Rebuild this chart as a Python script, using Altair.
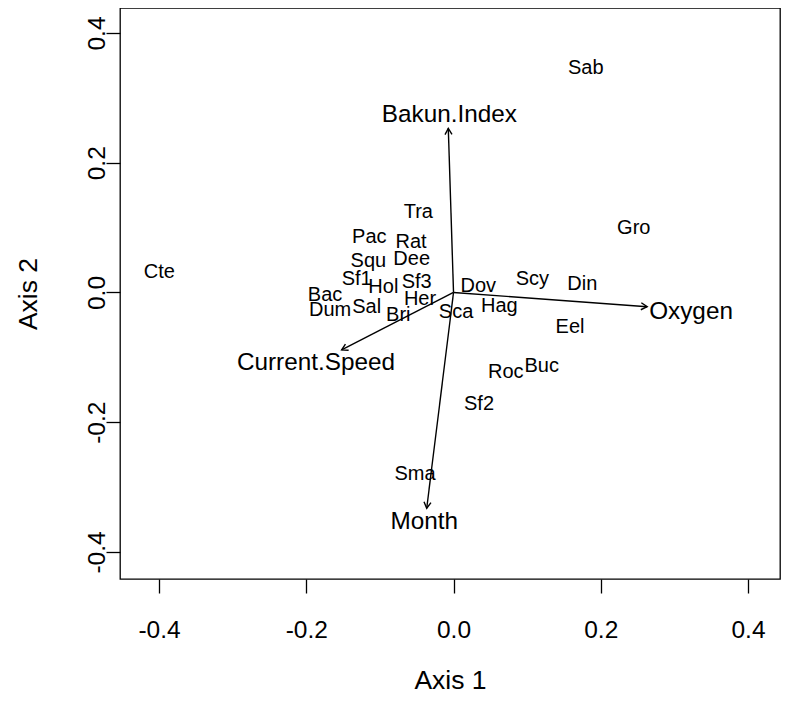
import math
import altair as alt
import pandas as pd

# ---- data ----
species = ["Cte", "Sab", "Gro", "Tra", "Pac", "Rat", "Squ", "Dee", "Sf1", "Hol",
           "Sf3", "Dov", "Scy", "Din", "Bac", "Dum", "Sal", "Her", "Bri", "Sca",
           "Hag", "Eel", "Roc", "Buc", "Sf2", "Sma"]
sp_x = [-0.3996, 0.1796, 0.2448, -0.0478, -0.1144, -0.0577, -0.1157, -0.0568, -0.1315, -0.0953,
        -0.0500, 0.0337, 0.1070, 0.1749, -0.1745, -0.1677, -0.1179, -0.0455, -0.0750, 0.0034,
        0.0622, 0.1582, 0.0709, 0.1198, 0.0346, -0.0523]
sp_y = [0.0321, 0.3456, 0.0990, 0.1236, 0.0860, 0.0774, 0.0486, 0.0512, 0.0208, 0.0089,
        0.0166, 0.0100, 0.0203, 0.0126, -0.0039, -0.0270, -0.0228, -0.0105, -0.0347, -0.0296,
        -0.0208, -0.0527, -0.1221, -0.1133, -0.1719, -0.2798]

env = ["Bakun.Index", "Oxygen", "Current.Speed", "Month"]
env_x = [-0.0071, 0.2630, -0.1520, -0.0364]
env_y = [0.2530, -0.0219, -0.0886, -0.3326]
env_lab_x = [-0.0057, 0.3226, -0.1868, -0.0397]
env_lab_y = [0.2736, -0.0296, -0.1091, -0.3542]

tick_vals = [-0.4, -0.2, 0.0, 0.2, 0.4]

# ---- layout ----
PXX = 736.25   # pixels per x unit
W, H = 660, 571
x_dom = [-0.453, -0.453 + W / PXX]
y_dom = [-0.4416, 0.4385]
px_per_x = W / (x_dom[1] - x_dom[0])
px_per_y = H / (y_dom[1] - y_dom[0])
FONT = "Liberation Sans"

sp_df = pd.DataFrame({"name": species, "x": sp_x, "y": sp_y})

angles = []
for ex, ey in zip(env_x, env_y):
    dx = ex * px_per_x
    dy = -ey * px_per_y
    angles.append(math.degrees(math.atan2(dx, -dy)) % 360)

env_df = pd.DataFrame({
    "name": env, "x": env_x, "y": env_y,
    "x0": [0.0] * len(env), "y0": [0.0] * len(env),
    "lx": env_lab_x, "ly": env_lab_y, "ang": angles,
})

xs = alt.Scale(domain=x_dom, nice=False, zero=False)
ys = alt.Scale(domain=y_dom, nice=False, zero=False)

label_expr = "datum.value < 0 ? '-' + format(-datum.value, '.1f') : format(datum.value, '.1f')"

x_axis = alt.Axis(values=tick_vals, labelExpr=label_expr, grid=False, domain=False,
                  tickSize=14, tickColor="black", tickWidth=1.3,
                  labelFont=FONT, labelFontSize=24.5, labelColor="black",
                  labelBaseline="middle", labelPadding=37,
                  title="Axis 1", titleFont=FONT, titleFontSize=26.5, titleFontWeight="normal",
                  titleColor="black", titleY=101, titleBaseline="middle")
y_axis = alt.Axis(values=tick_vals, labelExpr=label_expr, grid=False, domain=False,
                  tickSize=14, tickColor="black", tickWidth=1.3,
                  labelFont=FONT, labelFontSize=24.5, labelColor="black", labelPadding=2,
                  labelAngle=270, labelAlign="center", labelBaseline="alphabetic",
                  title="Axis 2", titleFont=FONT, titleFontSize=26.5, titleFontWeight="normal",
                  titleColor="black", titleAngle=270, titleX=-92, titleY=H / 2,
                  titleAlign="center", titleBaseline="middle")

species_text = alt.Chart(sp_df).mark_text(
    font=FONT, fontSize=20, color="black", align="center", baseline="middle"
).encode(
    x=alt.X("x:Q", scale=xs, axis=x_axis),
    y=alt.Y("y:Q", scale=ys, axis=y_axis),
    text="name:N",
)

shafts = alt.Chart(env_df).mark_rule(color="black", strokeWidth=1.4).encode(
    x=alt.X("x0:Q", scale=xs), y=alt.Y("y0:Q", scale=ys),
    x2="x:Q", y2="y:Q",
)

heads = alt.Chart(env_df).mark_point(
    shape="M-0.5,0.87L0,0L0.5,0.87", filled=False, color="black",
    strokeWidth=1.4, size=196, opacity=1
).encode(
    x=alt.X("x:Q", scale=xs), y=alt.Y("y:Q", scale=ys),
    angle=alt.Angle("ang:Q", scale=None),
)

env_text = alt.Chart(env_df).mark_text(
    font=FONT, fontSize=24.3, color="black", align="center", baseline="middle"
).encode(
    x=alt.X("lx:Q", scale=xs), y=alt.Y("ly:Q", scale=ys),
    text="name:N",
)

chart = alt.layer(shafts, heads, species_text, env_text).properties(
    width=W, height=H,
    autosize=alt.AutoSizeParams(type="none"),
    padding={"left": 112, "top": 0, "right": 2, "bottom": 114},
    background="white",
).configure_view(stroke="black", strokeWidth=1.3)

chart.save("out.html", embed_options={"renderer": "svg", "actions": False})
